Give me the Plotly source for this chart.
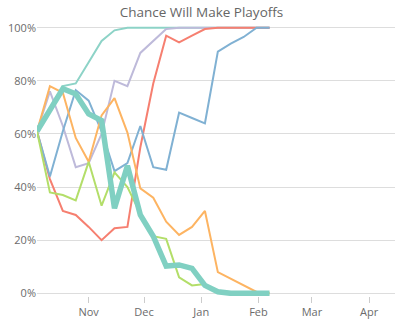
import plotly.graph_objects as go

# Weekly snapshot dates
weeks = [
    "2015-10-04", "2015-10-11", "2015-10-18", "2015-10-25", "2015-11-01",
    "2015-11-08", "2015-11-15", "2015-11-22", "2015-11-29", "2015-12-06",
    "2015-12-13", "2015-12-20", "2015-12-27", "2016-01-03", "2016-01-10",
    "2016-01-17", "2016-01-24", "2016-01-31", "2016-02-07",
]

# Playoff chance (%) per team, one value per week
team_teal = [61, 69, 78, 79, 87, 95, 99, 100, 100, 100, 100, 100, 100, 100, 100, 100, 100, 100, 100]
team_lavender = [61, 76, 63, 47.5, 49, 60, 80, 78, 90.5, 95, 99.5, 100, 100, 100, 100, 100, 100, 100, 100]
team_red = [61, 43, 31, 29.5, 25, 20, 24.5, 25, 55, 79, 97, 94.5, 97, 99.5, 100, 100, 100, 100, 100]
team_blue = [61, 44, 61, 76.5, 72.5, 61, 46, 49, 63, 47.5, 46.5, 68, 66, 64, 91, 94, 96.5, 100, 100]
team_orange = [61, 78, 75.5, 58.5, 49.5, 67, 73.5, 60.5, 39.5, 36, 27, 22, 25, 31, 8, 5.5, 3, 0.5, 0]
team_green = [61, 38, 37, 35, 49.5, 33, 45.5, 40, 30, 21.5, 20.5, 6, 3, 3.5, 0.5, 0, 0, 0, 0]
team_highlight = [61, 69, 77, 75, 67.5, 65, 32, 48, 29.5, 21.5, 10.3, 10.7, 9.4, 3, 0.6, 0, 0, 0, 0]

series = [
    (team_teal, "#8dd3c7", 2),
    (team_lavender, "#bebada", 2),
    (team_red, "#f67f70", 2),
    (team_blue, "#80b1d3", 2),
    (team_orange, "#fdb462", 2),
    (team_green, "#b3de69", 2),
    (team_highlight, "#80d0c2", 5.5),
]

y_ticks = [0, 20, 40, 60, 80, 100]

fig = go.Figure()
for values, color, width in series:
    fig.add_trace(go.Scatter(
        x=weeks, y=values, mode="lines",
        line=dict(color=color, width=width),
        hoverinfo="skip",
    ))

fig.update_layout(
    width=403, height=327,
    margin=dict(l=35, r=8, t=25, b=28),
    paper_bgcolor="white", plot_bgcolor="white",
    showlegend=False,
    font=dict(family="Open Sans", size=11, color="#6b6b6b"),
    title=dict(
        text="Chance Will Make Playoffs",
        x=0.5, xanchor="center",
        y=1 - 12.5 / 327, yanchor="middle", yref="container",
        font=dict(family="Open Sans", size=13.5, color="#666666"),
    ),
    xaxis=dict(
        type="date",
        range=["2015-10-04", "2016-04-15"],
        dtick="M1", tick0="2015-11-01", tickformat="%b",
        ticks="outside", ticklen=6, tickcolor="#cccccc", tickwidth=1,
        showgrid=False, zeroline=False, showline=False,
    ),
    yaxis=dict(
        range=[-1, 101],
        tickvals=y_ticks, ticktext=[f"{v}%" for v in y_ticks],
        showgrid=True, gridcolor="#dddddd", gridwidth=1,
        zeroline=False, showline=False, ticks="",
    ),
)

fig.write_html("out.html")
